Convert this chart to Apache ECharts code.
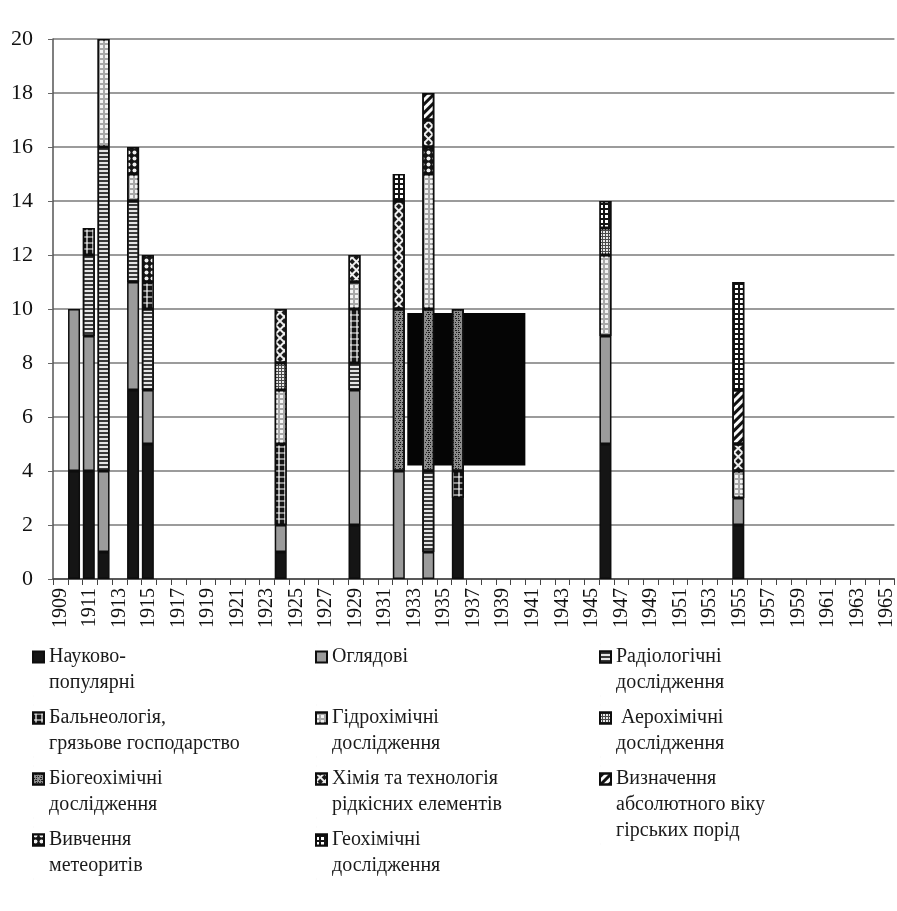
<!DOCTYPE html>
<html><head><meta charset="utf-8">
<script src="https://cdn.jsdelivr.net/npm/echarts@6/dist/echarts.min.js"></script>
<style>html,body{margin:0;padding:0;background:#fff}#c{width:897px;height:911px}</style>
</head><body><div id="c"></div>
<script>
// ---- data ----
const categories = ['1909','1910','1911','1912','1913','1914','1915','1916','1917','1918','1919','1920','1921','1922','1923','1924','1925','1926','1927','1928','1929','1930','1931','1932','1933','1934','1935','1936','1937','1938','1939','1940','1941','1942','1943','1944','1945','1946','1947','1948','1949','1950','1951','1952','1953','1954','1955','1956','1957','1958','1959','1960','1961','1962','1963','1964','1965'];
const barYears = ['1910','1911','1912','1914','1915','1924','1929','1932','1934','1936','1946','1955'];
const naukovoPopuliarni = [4,4,1,7,5,1,2,0,0,3,5,2];
const ohliadovi         = [6,5,3,4,2,1,5,4,1,0,4,1];
const radiolohichni     = [0,3,12,3,3,0,1,0,3,0,0,0];
const balneolohiia      = [0,1,0,0,1,3,2,0,0,1,0,0];
const hidrokhimichni    = [0,0,4,1,0,2,1,0,5,0,3,1];
const aerokhimichni     = [0,0,0,0,0,1,0,0,0,0,1,0];
const bioheokhimichni   = [0,0,0,0,0,0,0,6,6,6,0,0];
const khimiiaRidkisnykh = [0,0,0,0,0,2,1,4,1,0,0,1];
const absoliutnyiVik    = [0,0,0,0,0,0,0,0,1,0,0,2];
const meteoryty         = [0,0,0,1,1,0,0,0,1,0,0,0];
const heokhimichni      = [0,0,0,0,0,0,0,1,0,0,1,4];
const yMin = 0, yMax = 20, yStep = 2;
// dark block visible in the source picture (data-space extent)
const darkBlockYears = ['1933','1940'];
const darkBlockValues = [4.2, 9.85];

// legend names (legend order) and displayed labels
const seriesNames = ['Науково-популярні','Оглядові','Радіологічні дослідження','Бальнеологія, грязьове господарство','Гідрохімічні дослідження','Аерохімічні дослідження','Біогеохімічні дослідження','Хімія та технологія рідкісних елементів','Визначення абсолютного віку гірських порід','Вивчення метеоритів','Геохімічні дослідження'];
const legendLabels = ['Науково-\nпопулярні','Оглядові','Радіологічні\nдослідження','Бальнеологія,\nгрязьове господарство','Гідрохімічні\nдослідження',' Аерохімічні\nдослідження','Біогеохімічні\nдослідження','Хімія та технологія\nрідкісних елементів','Визначення\nабсолютного віку\nгірських порід','Вивчення\nметеоритів','Геохімічні\nдослідження'];
const seriesValues = [naukovoPopuliarni, ohliadovi, radiolohichni, balneolohiia, hidrokhimichni, aerokhimichni, bioheokhimichni, khimiiaRidkisnykh, absoliutnyiVik, meteoryty, heokhimichni];
// stacking order (bottom to top) as seen in the bars
const stackOrder = [0,1,2,3,6,4,5,9,7,8,10];

// ---- styles ----
const PI4 = Math.PI / 4;
const styles = [
  {color:'#151515'},
  {color:'#9b9b9b'},
  {color:'#e4e4e4', decal:{symbol:'rect', symbolSize:1, color:'#3a3a3a', dashArrayX:[1,0], dashArrayY:[1.5,2]}},
  {color:'#151515', decal:{symbol:'path://M0,4H10V6H0Z M4,0H6V10H4Z', symbolSize:1, symbolKeepAspect:false, color:'#ffffff', dashArrayX:[6,0], dashArrayY:[6,0]}},
  {color:'#a8a8a8', decal:{symbol:'rect', symbolSize:1, color:'#f4f4f4', dashArrayX:[3,1.5], dashArrayY:[3,1.5]}},
  {color:'#4a4a4a', decal:{symbol:'rect', symbolSize:1, color:'#e8e8e8', dashArrayX:[1.5,1], dashArrayY:[1.5,1]}},
  {color:'#8c8c8c', decal:{symbol:'rect', symbolSize:1, color:'#1e1e1e', dashArrayX:[[1,2,1,1],[2,1,1,3],[1,1,2,2]], dashArrayY:[1,1]}},
  {color:'#f0f0f0', decal:{symbol:'rect', symbolSize:1, color:'#1a1a1a', dashArrayX:[3.5,1.2], dashArrayY:[3.5,1.2], rotation:PI4}},
  {color:'#fafafa', decal:{symbol:'rect', symbolSize:1, color:'#111111', dashArrayX:[1,0], dashArrayY:[2.5,2.5], rotation:-PI4}},
  {color:'#151515', decal:{symbol:'circle', symbolSize:0.8, color:'#f0f0f0', dashArrayX:[5,1], dashArrayY:[5,1]}},
  {color:'#151515', decal:{symbol:'rect', symbolSize:1, color:'#ffffff', dashArrayX:[3,1.8], dashArrayY:[3,1.8]}}
];

const font = 'Liberation Serif';
function fullSeries(arr) {
  return categories.map(y => {
    const i = barYears.indexOf(y);
    return (i >= 0 && arr[i]) ? arr[i] : null;
  });
}

const series = stackOrder.map(k => ({
  name: seriesNames[k],
  type: 'bar',
  stack: 'total',
  barWidth: 12,
  data: fullSeries(seriesValues[k]),
  itemStyle: Object.assign({borderColor:'#0d0d0d', borderWidth:1.5}, styles[k]),
  emphasis: {disabled: true}
}));
series.push({
  name: 'block', type: 'bar', data: [], z: 1,
  markArea: {
    silent: true,
    itemStyle: {color:'#050505', opacity:1},
    data: [[{xAxis: darkBlockYears[0], yAxis: darkBlockValues[0]}, {xAxis: darkBlockYears[1], yAxis: darkBlockValues[1]}]]
  }
});

// legends: 3 columns x 4 rows
const colLeft = [32, 315, 599];
const rowCenter = [656, 717, 778, 839];
const lineH = 26;
const legends = seriesNames.map((name, i) => {
  const lines = legendLabels[i].split('\n').length;
  const h = lines * lineH;
  const c = lineH / 2;
  // square aligned with first text line; tiny marks stretch the icon box to the text height
  const icon = 'path://M0,' + (c - 5.5) + 'h11v11h-11z M0,0h0.01 M0,' + h + 'h0.01';
  return {
    data: [{name: name, icon: icon}],
    left: colLeft[i % 3],
    top: rowCenter[Math.floor(i / 3)] - c,
    orient: 'vertical',
    padding: 0,
    itemWidth: 11, itemHeight: h,
    selectedMode: false,
    formatter: () => legendLabels[i],
    textStyle: {fontFamily: font, fontSize: 20, lineHeight: lineH, color: '#1a1a1a'}
  };
});

const chart = echarts.init(document.getElementById('c'));
chart.setOption({
  animation: false,
  backgroundColor: '#ffffff',
  grid: {left: 53, right: 0, top: 39, bottom: 332},
  legend: legends,
  xAxis: {
    type: 'category', data: categories, boundaryGap: true,
    axisLine: {lineStyle: {color: '#444', width: 1.5}},
    axisTick: {show: true, interval: 0, alignWithLabel: false, length: 6, lineStyle: {color: '#444'}},
    axisLabel: {interval: 1, rotate: 90, fontFamily: font, fontSize: 20, color: '#111', margin: 9},
    splitLine: {show: false}
  },
  yAxis: {
    type: 'value', min: yMin, max: yMax, interval: yStep,
    axisLine: {show: true, lineStyle: {color: '#555', width: 1.5}},
    axisTick: {show: true, length: 5, lineStyle: {color: '#666'}},
    axisLabel: {fontFamily: font, fontSize: 22, color: '#111', margin: 20},
    splitLine: {lineStyle: {color: '#7a7a7a', width: 1.5}}
  },
  series: series
});
</script>
</body></html>
